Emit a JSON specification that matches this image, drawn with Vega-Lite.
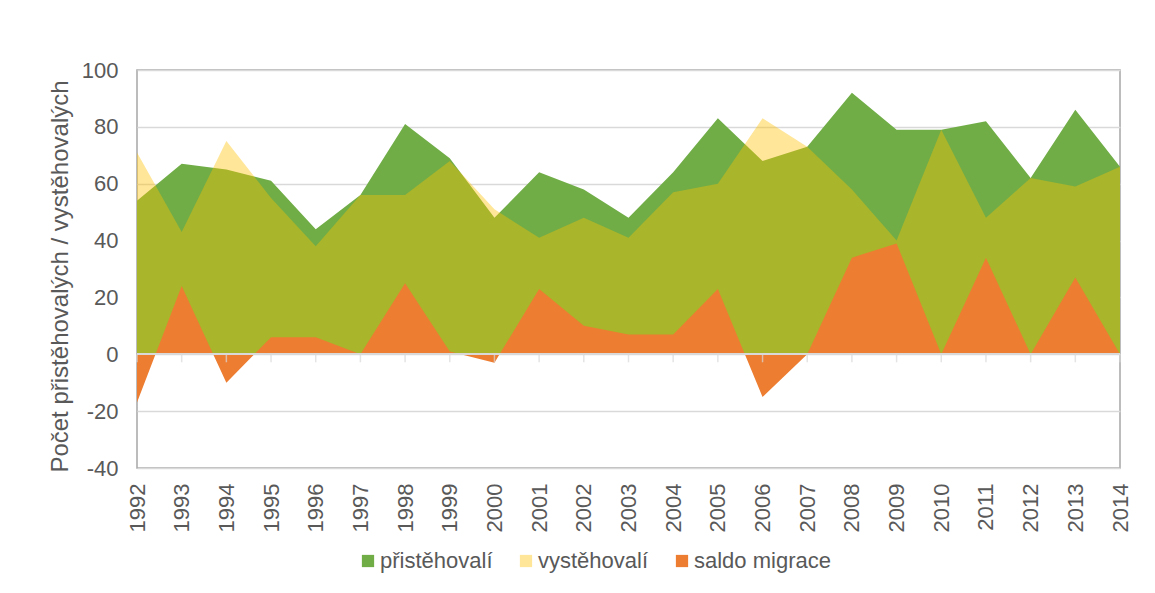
{
  "$schema": "https://vega.github.io/schema/vega-lite/v6.json",
  "autosize": "none",
  "width": 983,
  "height": 398,
  "padding": {"left": 137, "top": 70, "right": 35, "bottom": 125},
  "background": "white",
  "config": {
    "font": "Liberation Sans",
    "view": {"stroke": "#a6a6a6", "strokeWidth": 1.5},
    "axis": {"labelColor": "#595959", "titleColor": "#595959", "labelFontSize": 22, "titleFontSize": 24, "titleFontWeight": "normal"}
  },
  "data": {"values": [
    {"year": 1992, "prist": 54, "vyst": 71, "saldo": -17},
    {"year": 1993, "prist": 67, "vyst": 43, "saldo": 24},
    {"year": 1994, "prist": 65, "vyst": 75, "saldo": -10},
    {"year": 1995, "prist": 61, "vyst": 55, "saldo": 6},
    {"year": 1996, "prist": 44, "vyst": 38, "saldo": 6},
    {"year": 1997, "prist": 56, "vyst": 56, "saldo": 0},
    {"year": 1998, "prist": 81, "vyst": 56, "saldo": 25},
    {"year": 1999, "prist": 69, "vyst": 68, "saldo": 1},
    {"year": 2000, "prist": 48, "vyst": 51, "saldo": -3},
    {"year": 2001, "prist": 64, "vyst": 41, "saldo": 23},
    {"year": 2002, "prist": 58, "vyst": 48, "saldo": 10},
    {"year": 2003, "prist": 48, "vyst": 41, "saldo": 7},
    {"year": 2004, "prist": 64, "vyst": 57, "saldo": 7},
    {"year": 2005, "prist": 83, "vyst": 60, "saldo": 23},
    {"year": 2006, "prist": 68, "vyst": 83, "saldo": -15},
    {"year": 2007, "prist": 73, "vyst": 73, "saldo": 0},
    {"year": 2008, "prist": 92, "vyst": 58, "saldo": 34},
    {"year": 2009, "prist": 79, "vyst": 40, "saldo": 39},
    {"year": 2010, "prist": 79, "vyst": 79, "saldo": 0},
    {"year": 2011, "prist": 82, "vyst": 48, "saldo": 34},
    {"year": 2012, "prist": 62, "vyst": 62, "saldo": 0},
    {"year": 2013, "prist": 86, "vyst": 59, "saldo": 27},
    {"year": 2014, "prist": 66, "vyst": 66, "saldo": 0}
  ]},
  "encoding": {
    "x": {
      "field": "year", "type": "quantitative",
      "scale": {"domain": [1992, 2014], "nice": false, "zero": false},
      "axis": {
        "title": null, "values": [1992,1993,1994,1995,1996,1997,1998,1999,2000,2001,2002,2003,2004,2005,2006,2007,2008,2009,2010,2011,2012,2013,2014],
        "format": "d", "labelAngle": -90, "labelAlign": "right", "labelBaseline": "middle",
        "labelPadding": 15, "ticks": false, "domain": false, "grid": false, "labelFlush": false, "labelOverlap": false
      }
    }
  },
  "layer": [
    {
      "mark": {"type": "area", "interpolate": "linear"},
      "encoding": {
        "y": {
          "field": "prist", "type": "quantitative",
          "scale": {"domain": [-40, 100], "nice": false},
          "axis": {
            "title": "Počet přistěhovalých / vystěhovalých",
            "values": [-40, -20, 0, 20, 40, 60, 80, 100],
            "labelExpr": "toString(datum.value)",
            "ticks": false, "domain": false, "labelPadding": 19,
            "gridColor": "#d9d9d9", "gridWidth": 1.5,
            "titleX": -77, "titleY": 206, "titleAngle": -90, "titleAlign": "center", "titleBaseline": "middle"
          }
        },
        "y2": {"datum": 0},
        "color": {
          "datum": "přistěhovalí",
          "scale": {"domain": ["přistěhovalí", "vystěhovalí", "saldo migrace"], "range": ["#70AD47", "#FFE699", "#ED7D31"]},
          "legend": {
            "title": null, "orient": "none", "direction": "horizontal",
            "legendX": 220, "legendY": 480,
            "symbolType": "square", "symbolSize": 150, "symbolStrokeWidth": 0,
            "labelFontSize": 22, "labelColor": "#595959", "columnPadding": 22, "labelOffset": 1
          }
        }
      }
    },
    {
      "mark": {"type": "area", "interpolate": "linear", "color": "#FFC000", "opacity": 0.4},
      "encoding": {
        "y": {"field": "vyst", "type": "quantitative"},
        "y2": {"datum": 0}
      }
    },
    {
      "mark": {"type": "area", "interpolate": "linear"},
      "encoding": {
        "y": {"field": "saldo", "type": "quantitative"},
        "y2": {"datum": 0},
        "color": {"datum": "saldo migrace"}
      }
    },
    {
      "mark": {"type": "rule", "color": "#d9d9d9", "strokeWidth": 1.5},
      "encoding": {"y": {"datum": 0}, "x": {"value": 0}, "x2": {"value": 983}}
    },
    {
      "mark": {"type": "tick", "orient": "vertical", "color": "#d9d9d9", "thickness": 1.5, "size": 8, "yOffset": 4},
      "encoding": {"y": {"datum": 0}}
    }
  ]
}
